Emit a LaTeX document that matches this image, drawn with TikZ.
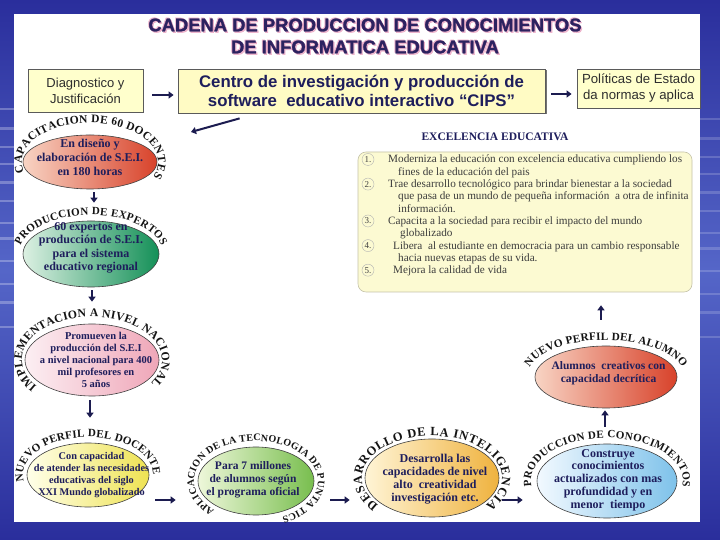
\documentclass[tikz,border=0pt]{standalone}
\usepackage{fontspec}
\setmainfont{Liberation Serif}
\newfontfamily\sansf{Liberation Sans}
\newfontfamily\heavyf{Liberation Sans}[BoldFeatures={FakeBold=1.4}]
\usetikzlibrary{shapes.geometric,arrows.meta,decorations.text,shadows}
\definecolor{bgdark}{HTML}{2A2E9C}
\definecolor{bglight}{HTML}{5566C8}
\definecolor{navy}{HTML}{1E1E5C}
\definecolor{titlec}{HTML}{2C2260}
\definecolor{glow}{HTML}{E58AB0}
\definecolor{boxfill}{HTML}{FFFFCC}
\definecolor{boxfillb}{HTML}{FFFBC4}
\definecolor{boxline}{HTML}{5A5A5A}
\definecolor{boxtext}{HTML}{2E2E2E}
\definecolor{excfill}{HTML}{FCFAD2}
\definecolor{excline}{HTML}{C4C2A8}
\definecolor{listc}{HTML}{3C3C3C}
\definecolor{arrc}{HTML}{1C1C50}
\definecolor{arcc}{HTML}{141414}
\definecolor{ra}{HTML}{F8D4C4}\definecolor{rb}{HTML}{D8422A}
\definecolor{ga}{HTML}{DCF0E2}\definecolor{gb}{HTML}{149058}
\definecolor{pa}{HTML}{FCEFF3}\definecolor{pb}{HTML}{EFA6B8}
\definecolor{ya}{HTML}{FFFFEA}\definecolor{yb}{HTML}{EEE252}
\definecolor{la}{HTML}{EEF7DA}\definecolor{lb}{HTML}{78BE4E}
\definecolor{oa}{HTML}{FFF5D6}\definecolor{ob}{HTML}{EFB23E}
\definecolor{ba}{HTML}{F2F9FF}\definecolor{bb}{HTML}{7EC2EA}
% centre coordinate, rx, ry, start, end, font size, text
\newcommand\curvedlabel[7]{%
  \path[decorate, decoration={text along path, text align={fit to path},
     text={|\bfseries\fontsize{#6}{#6}\selectfont\color{arcc}|#7}}]
     (#1) ++(#4:#2pt and #3pt) arc[start angle=#4, end angle=#5, x radius=#2pt, y radius=#3pt];}
\begin{document}
\begin{tikzpicture}[x=1pt,y=1pt,
  ell/.style={ellipse, draw=black!75, line width=0.6pt, inner sep=0pt},
  etxt/.style={align=center, text=navy, inner sep=0pt},
  arr/.style={draw=arrc, line width=2pt, -{Triangle[length=5pt,width=7pt]}},
  box/.style={draw=boxline, fill=boxfill, line width=0.8pt, align=center, inner sep=0pt},
  ttl/.style={font=\heavyf\bfseries\fontsize{18.4}{20}\selectfont, text=titlec, inner sep=0pt},
  lst/.style={font=\fontsize{11.2}{12}\selectfont, text=listc, anchor=base west, inner sep=0pt},
  num/.style={circle, draw=black!30, minimum size=12pt, inner sep=0pt, font=\fontsize{9}{9}\selectfont, text=black!75}]
\useasboundingbox (0,0) rectangle (720,540);
% background frame
\shade[top color=bgdark, bottom color=bgdark, middle color=bglight] (0,0) rectangle (720,540);
\foreach \yy/\hh in {430/2,410/3,392/2,375/2,356/3,338/2,316/2,300/3,278/2,255/2,236/3,212/2}{
  \fill[white, opacity=.28] (0,\yy) rectangle (14,\yy+\hh);
  \fill[white, opacity=.18] (700,\yy-10) rectangle (720,\yy-10+\hh);
}
\fill[white] (14,18) rectangle (700,526);
% title with soft glow
\foreach \dx/\dy [count=\i] in {1.2/-1.3,-0.9/0.9}{
  \node[ttl, text=glow, opacity=.6] (glowa\i) at (365+\dx,515+\dy) {CADENA DE PRODUCCION DE CONOCIMIENTOS};
  \node[ttl, text=glow, opacity=.6] (glowb\i) at (365+\dx,493+\dy) {DE INFORMATICA EDUCATIVA};
}
\node[ttl] (title1) at (365,515) {CADENA DE PRODUCCION DE CONOCIMIENTOS};
\node[ttl] (title2) at (365,493) {DE INFORMATICA EDUCATIVA};
% top boxes
\node[box, minimum width=115pt, minimum height=43pt, text=boxtext,
  font=\sansf\fontsize{13}{16}\selectfont] (diag) at (85.5,449.5) {Diagnostico y\\Justificación};
\node[box, minimum width=367pt, minimum height=44pt, fill=boxfillb, text=navy,
  drop shadow={shadow xshift=1.5pt, shadow yshift=-1.5pt, fill=black!55, opacity=1},
  font=\sansf\bfseries\fontsize{16.8}{19.5}\selectfont] (cips) at (361.5,449)
  {Centro de investigación y producción de\\software\ \ educativo interactivo “CIPS”};
\node[box, minimum width=123pt, minimum height=39pt, text=boxtext,
  font=\sansf\fontsize{13.2}{16}\selectfont] (pol) at (638.5,451.5) {Políticas de Estado\\da normas y aplica};
\draw[arr, line width=1.6pt] ([xshift=9pt,yshift=-4.5pt]diag.east) -- ([xshift=-4pt,yshift=-4pt]cips.west);
\draw[arr] ([xshift=6pt,yshift=-3pt]cips.east) -- ([xshift=-5pt,yshift=-5.5pt]pol.west);
\coordinate (eonetip) at (191,408);
\draw[arr] ([xshift=62pt,yshift=-5pt]cips.south west) -- (eonetip);
% excellence box
\node[draw=excline, fill=excfill, rounded corners=8pt, minimum width=334pt, minimum height=140pt, line width=0.6pt] (exc) at (525,318) {};
\node[font=\bfseries\fontsize{11.5}{13}\selectfont, text=navy, inner sep=0pt] (exct) at (495,403) {EXCELENCIA EDUCATIVA};
\foreach \xx/\yy/\tt [count=\i] in {
  388/377/{Moderniza la educación con excelencia educativa cumpliendo los},
  398/364.7/{fines de la educación del pais},
  388/352.4/{Trae desarrollo tecnológico para brindar bienestar a la sociedad},
  398/340.1/{que pasa de un mundo de pequeña información\ \ a otra de infinita},
  398/327.8/{información.},
  388/315.5/{Capacita a la sociedad para recibir el impacto del mundo},
  400/303.2/{globalizado},
  393/290.9/{Libera\ \ al estudiante en democracia para un cambio responsable},
  398/278.6/{hacia nuevas etapas de su vida.},
  393/266.3/{Mejora la calidad de vida}}{
  \node[lst] (ln\i) at (\xx,\yy) {\tt};
}
\foreach \yy/\nn in {377/1,352.4/2,315.5/3,290.9/4,266.3/5}{
  \node[num] (num\nn) at (368,\yy+3.5) {\nn.};
}
% ellipses
\node[ell, minimum width=134pt, minimum height=54pt, left color=ra, right color=rb] (e1) at (90,378) {};
\node[ell, minimum width=136pt, minimum height=66pt, left color=ga, right color=gb] (e2) at (91,286) {};
\node[ell, minimum width=134pt, minimum height=72pt, left color=pa, right color=pb] (e3) at (92,180) {};
\node[ell, minimum width=122pt, minimum height=64pt, left color=ya, right color=yb] (e4) at (88,65) {};
\node[ell, minimum width=116pt, minimum height=68pt, left color=la, right color=lb] (e5) at (256,59) {};
\node[ell, minimum width=134pt, minimum height=78pt, left color=oa, right color=ob] (e6) at (432,62) {};
\node[ell, minimum width=140pt, minimum height=74pt, left color=ba, right color=bb] (e7) at (607,59) {};
\node[ell, minimum width=142pt, minimum height=62pt, left color=ra, right color=rb] (e8) at (606,163) {};
% ellipse texts
\node[etxt, font=\bfseries\fontsize{12}{14}\selectfont] (t1) at (90,383) {En diseño y\\elaboración de S.E.I.\\en 180 horas};
\node[etxt, font=\bfseries\fontsize{12}{13.5}\selectfont] (t2) at (91,292) {60 expertos en\\producción de S.E.I.\\para el sistema\\educativo regional};
\node[etxt, font=\bfseries\fontsize{10.5}{12}\selectfont] (t3) at (96,180.5) {Promueven la\\producción del S.E.I\\a nivel nacional para 400\\mil profesores en\\5 años};
\node[etxt, font=\bfseries\fontsize{10.3}{12}\selectfont] (t4) at (91.5,65) {Con capacidad\\de atender las necesidades\\educativas del siglo\\XXI Mundo globalizado};
\node[etxt, font=\bfseries\fontsize{11.5}{13}\selectfont] (t5) at (253,60) {Para 7 millones\\de alumnos según\\el programa oficial};
\node[etxt, font=\bfseries\fontsize{12}{13}\selectfont] (t6) at (435,61) {Desarrolla las\\capacidades de nivel\\alto\ \ creatividad\\investigación etc.};
\node[etxt, font=\bfseries\fontsize{12}{12.75}\selectfont] (t7) at (608,60) {Construye\\conocimientos\\actualizados con mas\\profundidad y en\\menor\ \ tiempo};
\node[etxt, font=\bfseries\fontsize{11.5}{12.5}\selectfont] (t8) at (608.5,167) {Alumnos\ \ creativos con\\capacidad decrítica};
% curved labels
\curvedlabel{e1.center}{68}{39}{195}{-22}{11.5}{CAPACITACION DE 60 DOCENTES}
\curvedlabel{e2.center}{72}{39}{168}{12}{11}{PRODUCCION DE EXPERTOS}
\curvedlabel{e3.center}{70}{43}{218}{-33}{11.7}{IMPLEMENTACION A NIVEL NACIONAL}
\curvedlabel{e4.center}{65}{38}{190}{0}{11.1}{NUEVO PERFIL DEL DOCENTE}
\curvedlabel{e5.center}{62}{40}{228}{-65}{10}{APLICACION DE LA TECNOLOGIA DE PUNTA TICS}
\curvedlabel{e6.center}{70}{42}{220}{-40}{12.5}{DESARROLLO DE LA INTELIGENCIA}
\curvedlabel{e7.center}{76}{43}{187}{-8}{11}{PRODUCCION DE CONOCIMIENTOS}
\curvedlabel{e8.center}{79}{37}{165}{15}{11.2}{NUEVO PERFIL DEL ALUMNO}
% chain arrows
\draw[arr] ([xshift=4pt,yshift=-3pt]e1.south) -- ([xshift=3pt,yshift=18pt]e2.north);
\draw[arr] ([xshift=1pt,yshift=-3pt]e2.south) -- ([yshift=22pt]e3.north);
\draw[arr] ([xshift=-2pt,yshift=-4pt]e3.south) -- ([xshift=2pt,yshift=25pt]e4.north);
\draw[arr] ([xshift=6pt,yshift=-25pt]e4.east) -- ([xshift=-22pt,yshift=-19pt]e5.west);
\draw[arr] ([xshift=16pt,yshift=-19pt]e5.east) -- ([xshift=-15pt,yshift=-22pt]e6.west);
\draw[arr] ([xshift=3pt,yshift=-22pt]e6.east) -- ([xshift=-14pt,yshift=-19pt]e7.west);
\draw[arr] ([xshift=-2pt,yshift=17pt]e7.north) -- ([xshift=-1pt,yshift=-2pt]e8.south);
\draw[arr] ([xshift=-5pt,yshift=26pt]e8.north) -- ([xshift=76pt,yshift=-13pt]exc.south);
\end{tikzpicture}
\end{document}
